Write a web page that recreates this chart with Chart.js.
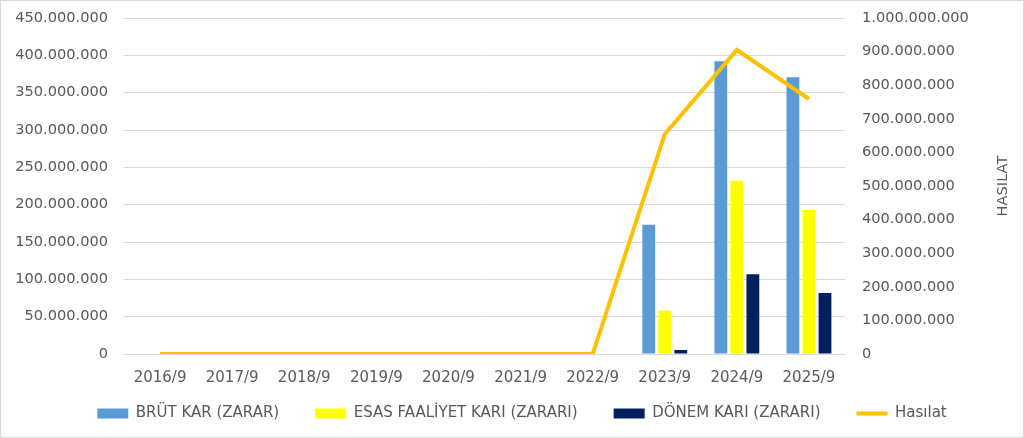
<!DOCTYPE html>
<html>
<head>
<meta charset="utf-8">
<script src="https://cdn.jsdelivr.net/npm/chart.js@4.4.1/dist/chart.umd.min.js"></script>
<style>
  html, body { margin: 0; padding: 0; background: #fff; }
  #wrap { width: 1024px; height: 438px; box-sizing: border-box; border: 1px solid #d9d9d9; }
  #chart { display: block; }
</style>
</head>
<body>
<div id="wrap"><canvas id="chart" width="1022" height="436"></canvas></div>
<script>
const periods = ['2016/9', '2017/9', '2018/9', '2019/9', '2020/9', '2021/9', '2022/9', '2023/9', '2024/9', '2025/9'];
const brutKar = [0, 0, 0, 0, 0, 0, 0, 173000000, 392000000, 370500000];
const esasFaaliyetKari = [0, 0, 0, 0, 0, 0, 0, 58000000, 232000000, 193000000];
const donemKari = [0, 0, 0, 0, 0, 0, 0, 5400000, 106700000, 81700000];
const hasilat = [0, 0, 0, 0, 0, 0, 0, 654000000, 905000000, 759000000];

const TEXT = '#595959';
const GRID = '#d9d9d9';

// 450000000 -> "450.000.000"
const fmt = v => String(Math.round(v)).replace(/\B(?=(\d{3})+(?!\d))/g, '.');

// right axis title, reads bottom-to-top like the original
const rightTitle = {
  id: 'rightTitle',
  afterDraw(chart) {
    const { ctx, chartArea } = chart;
    ctx.save();
    ctx.translate(1002, (chartArea.top + chartArea.bottom) / 2);
    ctx.rotate(-Math.PI / 2);
    ctx.font = "14.6px 'DejaVu Sans', sans-serif";
    ctx.fillStyle = TEXT;
    ctx.textAlign = 'center';
    ctx.textBaseline = 'middle';
    ctx.fillText('HASILAT', 0, 0);
    ctx.restore();
  }
};

// keep the plot area where the original has it; labels may spill out of the box
const fixWidth = w => s => {
  s.width = w;
  s.paddingTop = 0;
  s.paddingBottom = 0;
  s._computeLabelArea = () => undefined;
};

Chart.defaults.font.family = "'DejaVu Sans', sans-serif";
Chart.defaults.color = TEXT;

new Chart(document.getElementById('chart'), {
  type: 'bar',
  data: {
    labels: periods,
    datasets: [
      { label: 'BRÜT KAR (ZARAR)', data: brutKar, backgroundColor: '#5b9bd5', yAxisID: 'y', order: 1, pointStyle: 'rect' },
      { label: 'ESAS FAALİYET KARI (ZARARI)', data: esasFaaliyetKari, backgroundColor: '#ffff00', yAxisID: 'y', order: 1, pointStyle: 'rect' },
      { label: 'DÖNEM KARI (ZARARI)', data: donemKari, backgroundColor: '#002060', yAxisID: 'y', order: 1, pointStyle: 'rect' },
      {
        type: 'line',
        label: 'Hasılat',
        data: hasilat,
        borderColor: '#ffc000',
        backgroundColor: '#ffc000',
        borderWidth: 4,
        pointRadius: 0,
        pointHoverRadius: 0,
        pointStyle: 'line',
        tension: 0,
        yAxisID: 'y1',
        order: 0
      }
    ]
  },
  options: {
    responsive: false,
    animation: false,
    categoryPercentage: 0.667,
    barPercentage: 0.8,
    layout: { padding: { top: 17, bottom: 6, left: 20, right: 0 } },
    plugins: {
      legend: {
        position: 'bottom',
        labels: {
          usePointStyle: true,
          pointStyleWidth: 31,
          boxHeight: 10,
          padding: 36,
          color: TEXT,
          font: { size: 15 },
          sort: (a, b) => a.datasetIndex - b.datasetIndex
        }
      },
      tooltip: { enabled: false }
    },
    scales: {
      x: {
        grid: { display: false, drawTicks: false },
        border: { display: true, color: GRID },
        ticks: { color: TEXT, font: { size: 15 }, padding: 15, maxRotation: 0, autoSkip: false },
        afterFit: s => {
          s.height = 16;
          s._computeLabelArea = () => undefined;
        }
      },
      y: {
        position: 'left',
        min: 0,
        max: 450000000,
        grid: { color: GRID, drawTicks: false },
        border: { display: false },
        ticks: { stepSize: 50000000, color: TEXT, font: { size: 14.6 }, padding: 16, callback: v => fmt(v) },
        afterFit: fixWidth(103)
      },
      y1: {
        position: 'right',
        min: 0,
        max: 1000000000,
        grid: { display: false, drawTicks: false },
        border: { display: false },
        ticks: { stepSize: 100000000, color: TEXT, font: { size: 14.6 }, padding: 17, callback: v => fmt(v) },
        afterFit: fixWidth(178)
      }
    }
  },
  plugins: [rightTitle]
});
</script>
</body>
</html>
